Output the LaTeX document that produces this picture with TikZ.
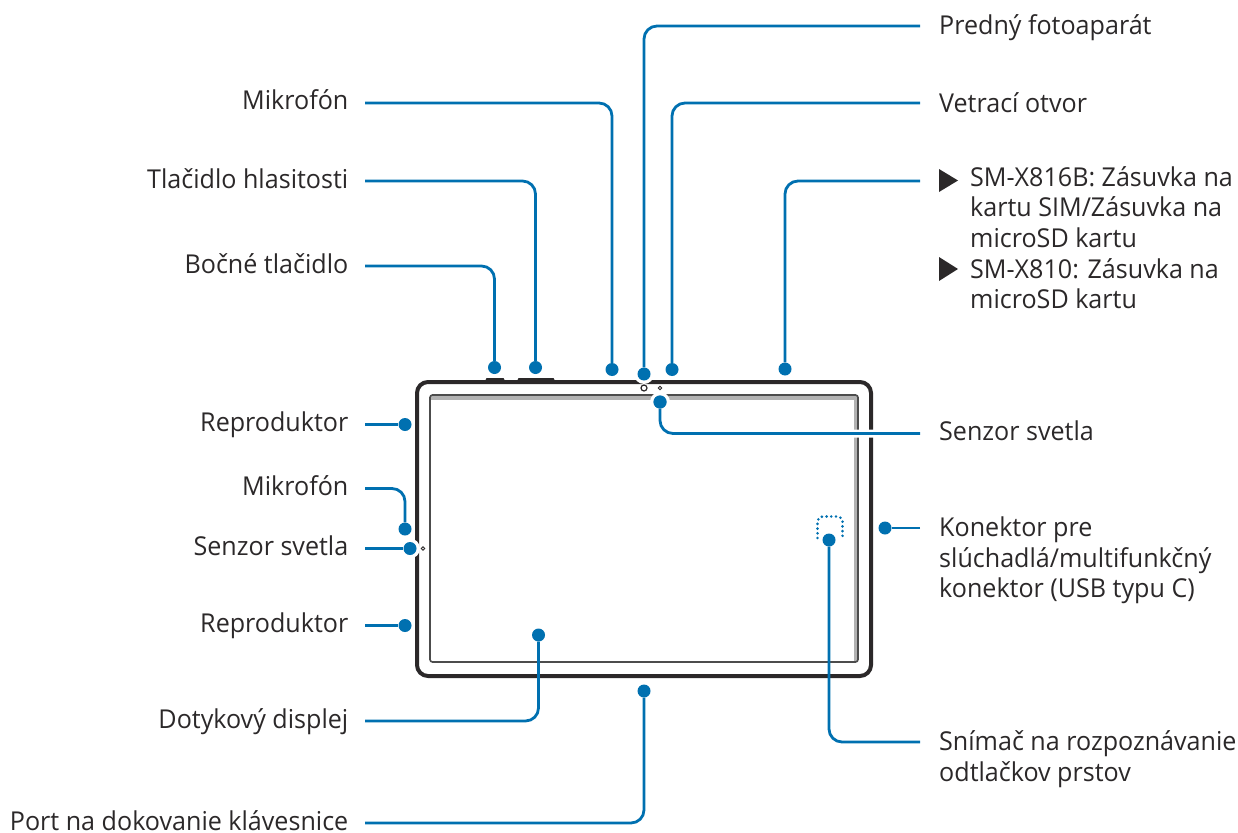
\documentclass[tikz,border=0pt]{standalone}
\usepackage{fontspec}
\setmainfont[FakeStretch=0.965]{Open Sans}
\usetikzlibrary{calc}
\definecolor{sblue}{HTML}{0070B0}
\definecolor{sdark}{HTML}{2B2829}
\newcommand{\lfont}{\fontsize{26}{30.7}\selectfont}
\tikzset{
  x=1pt,y=-1pt,
  lab/.style={font=\lfont,text=sdark,inner ysep=0pt,text height=18pt,text depth=4pt},
  labl/.style={lab,anchor=east,inner xsep=16.5pt},
  block/.style={font=\lfont,text=sdark,anchor=north west,align=left,inner sep=0pt},
  dot/.style={circle,fill=sblue,inner sep=0pt,minimum size=13pt},
  halo/.style={circle,fill=white,inner sep=0pt,minimum size=20pt},
  conn/.style={draw=sblue,line width=2.8pt,rounded corners=13pt},
  connhalo/.style={draw=white,line width=8pt,rounded corners=13pt},
  body/.style={draw=sdark,line width=4pt,rounded corners=11pt},
  screen/.style={draw=black!70,line width=1.6pt,rounded corners=2.5pt},
  bevel/.style={draw=black!30,line width=4pt},
  btn/.style={fill=sdark,draw=none},
  lens/.style={circle,draw=sdark,fill=white,inner sep=0pt},
}
\begin{document}
\begin{tikzpicture}
\useasboundingbox (0,0) rectangle (1238,832);
% device
\draw[btn] (485,381) -- (486.5,378) -- (503.5,378) -- (505,381) -- cycle;
\draw[btn] (517,381) -- (518.5,378) -- (553.5,378) -- (555,381) -- cycle;
\draw[body] (417,382) rectangle (871,676);
\draw[bevel] (431,397.5) -- (855.5,397.5) -- (855.5,661);
\draw[screen] (430,395) rectangle (858,662);
\node[lens,line width=1.2pt,minimum size=6pt] (cam) at (644,388) {};
\node[lens,line width=0.9pt,minimum size=3.6pt] (als) at (660,388) {};
\node[lens,line width=0.9pt,minimum size=3.6pt] (alsl) at (423,548.5) {};
\draw[sblue,line width=2.9pt,line cap=round,dash pattern=on 0pt off 4.7pt,rounded corners=5pt] (817.5,538) -- (817.5,516.5) -- (842.5,516.5) -- (842.5,538);
% dots
\node[dot] (d1) at (612,369.5) {};
\node[dot] (d2) at (535.5,367.5) {};
\node[dot] (d3) at (494.5,367.5) {};
\node[halo] (h4) at (644,374) {};
\node[dot] (d4) at (644,374) {};
\node[dot] (d5) at (672,369.5) {};
\node[dot] (d6) at (785,369) {};
\node[halo] (h7) at (660,402) {};
\node[dot] (d7) at (660,402) {};
\node[dot] (d8) at (885,528) {};
\node[dot] (d9) at (829,540) {};
\node[dot] (d10) at (644,691) {};
\node[dot] (d11) at (538.5,635) {};
\node[dot] (d12) at (405,424.5) {};
\node[dot] (d13) at (405,529) {};
\node[halo] (h14) at (410,548.5) {};
\node[dot] (d14) at (410,548.5) {};
\node[dot] (d15) at (405,625.5) {};
% left labels
\node[labl] (l1) at (365,103) {Mikrofón};
\node[labl] (l2) at (365,181) {Tlačidlo hlasitosti};
\node[labl] (l3) at (365,266) {Bočné tlačidlo};
\node[labl] (l12) at (365,424.5) {Reproduktor};
\node[labl] (l13) at (365,488.5) {Mikrofón};
\node[labl] (l14) at (365,548.5) {Senzor svetla};
\node[labl] (l15) at (365,625.5) {Reproduktor};
\node[labl] (l11) at (365,721) {Dotykový displej};
\node[labl] (l10) at (365,823) {Port na dokovanie klávesnice};
% right labels
\coordinate (c4) at (920,26);
\coordinate (c5) at (920,103);
\coordinate (c6) at (920,181);
\coordinate (c7) at (920,433.5);
\coordinate (c8) at (920,528);
\coordinate (c9) at (920,742);
\node[lab,anchor=west,inner xsep=0pt] (r4) at (939,27.5) {Predný fotoaparát};
\node[lab,anchor=west,inner xsep=0pt] (r5) at (939,105.5) {Vetrací otvor};
\node[lab,anchor=west,inner xsep=0pt] (r7) at (939,433.5) {Senzor svetla};
\node[block] (t6a) at (970,166) {SM-X816B: Zásuvka na\\kartu SIM/Zásuvka na\\microSD kartu};
\node[block] (t6b) at (970,258) {SM-X810: Zásuvka na\\microSD kartu};
\node[block] (t8) at (939,516.5) {Konektor pre\\slúchadlá/multifunkčný\\konektor (USB typu C)};
\node[block] (t9) at (939,730.5) {Snímač na rozpoznávanie\\odtlačkov prstov};
\fill[sdark] (939,169) -- (958,180.5) -- (939,192) -- cycle;
\fill[sdark] (939,257) -- (958,269) -- (939,281) -- cycle;
% connectors
\draw[conn] (l1.east) -| (d1);
\draw[conn] (l2.east) -| (d2);
\draw[conn] (l3.east) -| (d3);
\draw[conn] (c4) -| (d4);
\draw[conn] (c5) -| (d5);
\draw[conn] (c6) -| (d6);
\draw[connhalo] (c7) -| (d7);
\node[dot] at (d7) {};
\draw[conn] (c7) -| (d7);
\draw[conn] (c8) -- (d8);
\draw[conn] (c9) -| (d9);
\draw[conn] (l10.east) -| (d10);
\draw[conn] (l11.east) -| (d11);
\draw[conn] (l12.east) -- (d12);
\draw[conn] (l13.east) -| (d13);
\draw[conn] (l14.east) -- (d14);
\draw[conn] (l15.east) -- (d15);
\end{tikzpicture}
\end{document}
